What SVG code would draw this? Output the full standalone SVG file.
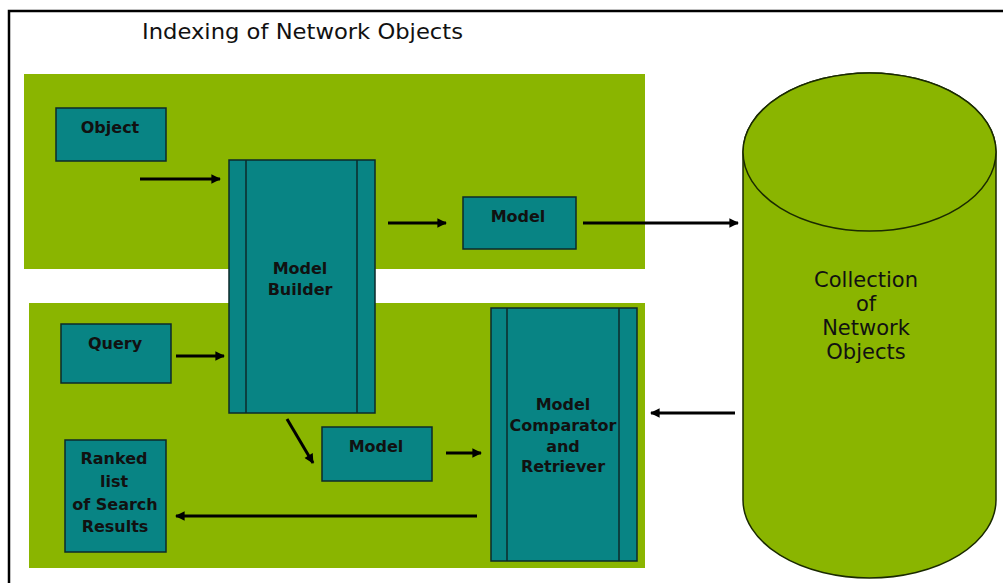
<svg xmlns="http://www.w3.org/2000/svg" width="1003" height="583" viewBox="0 0 1003 583">
  <defs>
    <marker id="ah" viewBox="0 0 10 10" refX="9" refY="5" markerWidth="3.6" markerHeight="3.2" orient="auto" markerUnits="strokeWidth">
      <path d="M0,0 L10,5 L0,10 Z" fill="#000"/>
    </marker>
    <style>
      .panel { fill: #8ab500; }
      .box { fill: #088484; stroke: #0d2a2a; stroke-width: 1.5; }
      .inner { stroke: #0d2a2a; stroke-width: 1.5; fill: none; }
      .lbl { font-family: "DejaVu Sans", Verdana, sans-serif; font-weight: bold; font-size: 16px; fill: #111; text-anchor: middle; }
      .cyl { fill: #8ab500; stroke: #1a2a00; stroke-width: 1.5; }
      .cyllbl { font-family: "DejaVu Sans", Verdana, sans-serif; font-size: 21px; fill: #111; text-anchor: middle; }
      .conn { stroke: #000; stroke-width: 3; fill: none; marker-end: url(#ah); }
    </style>
  </defs>
  <rect x="0" y="0" width="1003" height="583" fill="#fff"/>
  <!-- frame -->
  <path d="M9,583 L9,11 L1003,11" fill="none" stroke="#000" stroke-width="2.5"/>
  <text x="142" y="39" font-family="DejaVu Sans, Verdana, sans-serif" font-size="21" fill="#111" textLength="321" lengthAdjust="spacingAndGlyphs">Indexing of Network Objects</text>

  <!-- panels -->
  <rect class="panel" x="24" y="74" width="621" height="195"/>
  <rect class="panel" x="29" y="303" width="616" height="265"/>

  <g id="object">
    <rect class="box" x="56" y="108" width="110" height="53"/>
    <text class="lbl" x="110" y="133">Object</text>
  </g>
  <g id="model-builder">
    <rect class="box" x="229" y="160" width="146" height="253"/>
    <line class="inner" x1="246" y1="160" x2="246" y2="413"/>
    <line class="inner" x1="357" y1="160" x2="357" y2="413"/>
    <text class="lbl" x="300" y="274">Model</text>
    <text class="lbl" x="300" y="295">Builder</text>
  </g>
  <g id="model-top">
    <rect class="box" x="463" y="197" width="113" height="52"/>
    <text class="lbl" x="518" y="222">Model</text>
  </g>
  <g id="query">
    <rect class="box" x="61" y="324" width="110" height="59"/>
    <text class="lbl" x="115" y="349">Query</text>
  </g>
  <g id="model-bottom">
    <rect class="box" x="322" y="427" width="110" height="54"/>
    <text class="lbl" x="376" y="452">Model</text>
  </g>
  <g id="ranked">
    <rect class="box" x="65" y="440" width="101" height="112"/>
    <text class="lbl" x="114" y="464">Ranked</text>
    <text class="lbl" x="114" y="487">list</text>
    <text class="lbl" x="115" y="510">of Search</text>
    <text class="lbl" x="115" y="532">Results</text>
  </g>
  <g id="comparator">
    <rect class="box" x="491" y="308" width="146" height="253"/>
    <line class="inner" x1="507" y1="308" x2="507" y2="561"/>
    <line class="inner" x1="619" y1="308" x2="619" y2="561"/>
    <text class="lbl" x="563" y="410">Model</text>
    <text class="lbl" x="563" y="431">Comparator</text>
    <text class="lbl" x="563" y="452">and</text>
    <text class="lbl" x="563" y="472">Retriever</text>
  </g>
  <g id="collection">
    <path class="cyl" d="M743,152 L743,500 A126.5,78 0 0 0 996,500 L996,152 A126.5,79 0 0 0 743,152 Z"/>
    <ellipse class="cyl" cx="869.5" cy="152" rx="126.5" ry="79"/>
    <text class="cyllbl" x="866" y="287">Collection</text>
    <text class="cyllbl" x="866" y="311">of</text>
    <text class="cyllbl" x="866" y="335">Network</text>
    <text class="cyllbl" x="866" y="359">Objects</text>
  </g>

  <g id="connectors">
    <line class="conn" x1="140" y1="179" x2="220" y2="179"/>
    <line class="conn" x1="388" y1="223" x2="446" y2="223"/>
    <line class="conn" x1="583" y1="223" x2="738" y2="223"/>
    <line class="conn" x1="176" y1="356" x2="224" y2="356"/>
    <line class="conn" x1="287" y1="419" x2="313" y2="463"/>
    <line class="conn" x1="446" y1="453" x2="481" y2="453"/>
    <line class="conn" x1="735" y1="413" x2="651" y2="413"/>
    <line class="conn" x1="477" y1="516" x2="176" y2="516"/>
  </g>
</svg>
